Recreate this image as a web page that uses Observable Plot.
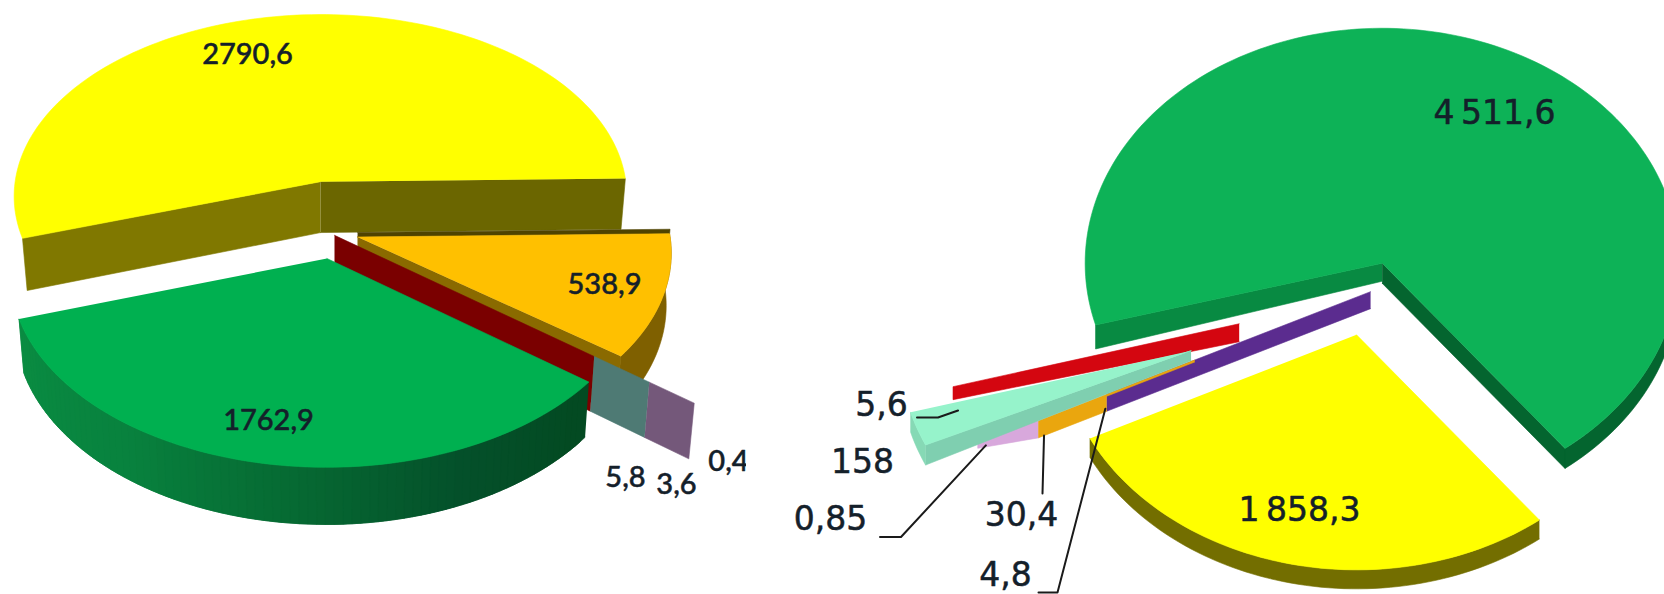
<!DOCTYPE html>
<html>
<head>
<meta charset="utf-8">
<script src="https://cdn.jsdelivr.net/npm/d3@7"></script>
<script src="https://cdn.jsdelivr.net/npm/@observablehq/plot@0.6"></script>
<style>
html,body{margin:0;padding:0;background:#fff;overflow:hidden}
svg{display:block}
</style>
</head>
<body>
<div id="chart"></div>
<script>
// ---- data (clockwise from each pie's starting angle)
const leftNames  = ["orange","darkred","mauve","teal","green","yellow"];
const leftValues = [538.9, 0.4, 3.6, 5.8, 1762.9, 2790.6];
const leftLabels = ["538,9","0,4","3,6","5,8","1762,9","2790,6"];

const rightNames  = ["yellow","purple","amber","pink","aqua","red","green"];
const rightValues = [1858.3, 4.8, 30.4, 0.85, 158, 5.6, 4511.6];
const rightLabels = ["1\u2009858,3","4,8","30,4","0,85","158","5,6","4\u2009511,6"];

// ---- 3D view of each pie
const leftView  = {cx:334, cy:232, R:312, Q:188, p:0.00042, shrink:0.015/52, start:-1};
const rightView = {cx:1366, cy:300, R:297, Q:235, p:0, shrink:0, start:52};

const rad = d => d*Math.PI/180;
function layout(values, start){
  const total = d3.sum(values); let a = start;
  return values.map(v => { const a0=a; a += v/total*360; return {a0, a1:a, mid:(a0+a)/2}; });
}
function projector(view){
  return (a, r, e=0, ea=0, d=0) => {
    const X = view.R*(r*Math.cos(rad(a)) + e*Math.cos(rad(ea)));
    const G = view.Q*(r*Math.sin(rad(a)) + e*Math.sin(rad(ea)));
    const w = 1/(1 - view.p*G);
    return [view.cx + X*w*(1 - view.shrink*d), view.cy + (G + d)*w];
  };
}
const leftP = projector(leftView), rightP = projector(rightView);
const L = Object.fromEntries(layout(leftValues,leftView.start).map((s,i)=>[leftNames[i],s]));
const Rr = Object.fromEntries(layout(rightValues,rightView.start).map((s,i)=>[rightNames[i],s]));

// ---- shape builders
const rows = []; let uid = 0;
function poly(fill, pts){ const id = uid++; pts.forEach(p => rows.push({id, fill, x:p[0], y:p[1]})); }
const arcAngles = (a0,a1,step=1.5) => { const n=Math.max(1,Math.ceil(Math.abs(a1-a0)/step)); return d3.range(n+1).map(i=>a0+(a1-a0)*i/n); };
function topFace(P,s,e,ea,fill,r=1){ poly(fill,[P(0,0,e,ea), ...arcAngles(s.a0,s.a1).map(a=>P(a,r,e,ea))]); }
function face(P,a,e,ea,d,fill,r0=0,r1=1,a2=a,d0=d,d1=d){
  poly(fill,[P(a,r0,e,ea),P(a2,r1,e,ea),P(a2,r1,e,ea,d1),P(a,r0,e,ea,d0)]);
}
function outerSide(P,a0,a1,e,ea,d,color,r=1){
  const as = arcAngles(a0,a1,1.5);
  if (typeof color !== "function") {
    poly(color,[...as.map(a=>P(a,r,e,ea)), ...as.slice().reverse().map(a=>P(a,r,e,ea,d))]);
    return;
  }
  // Each strip overlaps the next, so the shading has no seams.
  for(let i=as.length-2;i>=0;i--){
    const b = as[Math.min(i+2,as.length-1)];
    const sub=[as[i],as[i+1],b];
    poly(color((as[i]+as[i+1])/2),[...sub.map(a=>P(a,r,e,ea)), ...sub.slice().reverse().map(a=>P(a,r,e,ea,d))]);
  }
}

// ---- left pie
{
  const P=leftP, d=52;
  const y=L.yellow, o=L.orange, g=L.green;
  const ey=.28, eo=.0775, eg=.139;
  face(P,y.a0,ey,y.mid,d,"#807800");
  face(P,y.a1,ey,y.mid,d,"#6b6600");
  topFace(P,y,ey,y.mid,"#ffff00");
  outerSide(P,o.a0,o.a1,eo,o.mid,d,"#7f6000");
  face(P,o.a1,eo,o.mid,d,"#8a6a00");
  face(P,o.a0,eo,o.mid,-4.5,"#4f4300");
  topFace(P,o,eo,o.mid,"#ffc000");
  const ab=g.a0, e0=.015;
  face(P,ab,e0,90,d,"#7a0000",0,1);
  face(P,ab,e0,90,d,"#4e7a74",1,1.2);
  face(P,ab,e0,90,d,"#74587a",1.2,1.36);
  const gc=d3.scaleLinear().domain([40,65,92,125,160]).range(["#034a22","#04502a","#066832","#08823e","#0a8c42"]);
  outerSide(P,g.a0,g.a1,eg,g.mid,d,gc);
  topFace(P,g,eg,g.mid,"#00b050");
}
// ---- right pie
{
  const P=rightP;
  const g=Rr.green,y=Rr.yellow,aq=Rr.aqua,re=Rr.red,pu=Rr.purple,pk=Rr.pink;
  const eG=.167,eY=.15,eA=.628;
  face(P,g.a0,eG,g.mid,20,"#088a42",0,1,g.a0,18,24);
  face(P,g.a1,eG,g.mid,20,"#04652f");
  outerSide(P,360,g.a1,eG,g.mid,20,"#04652f");
  topFace(P,g,eG,g.mid,"#0db257");
  outerSide(P,y.a0,y.a1,eY,y.mid,19,"#736e00");
  topFace(P,y,eY,y.mid,"#ffff00");
  face(P,re.a0,.44,167,15,"#d40610",0,1,re.a0,18,13);
  const ea=-70, e1=.04;
  face(P,pu.a0,e1,ea,17,"#5b2c8f",0,.99);
  face(P,pu.a0,e1,ea,17,"#eaa60e",.99,1.247);
  face(P,pu.a0,e1,ea,17,"#d8a8dc",1.247,1.45,pk.a1);
  face(P,pu.a0,e1,ea,2,"#eaa60e",.66,.99);
  face(P,aq.a0,eA,aq.mid,20,"#7fcfb0",0,.98,aq.a0,10,20);
  outerSide(P,aq.a0,aq.a1,eA,aq.mid,20,"#86d9b5",.98);
  topFace(P,aq,eA,aq.mid,"#96f3cb",.98);
}

// ---- label placement, as offsets from each pie's centre
const leftLabelPos  = {"2790,6":[-87,-178],"538,9":[270,52],"1762,9":[-66,188],"5,8":[291,245],"3,6":[342,252],"0,4":[394,229]};
const rightLabelPos = {"4\u2009511,6":[128,-187],"1\u2009858,3":[-67,210],"5,6":[-485,105],"158":[-504,162],"0,85":[-536,219],"30,4":[-345,215],"4,8":[-361,275]};
const labelRows = [
  ...leftLabels.map(t=>({t, side:"left", x:leftView.cx+leftLabelPos[t][0], y:leftView.cy+leftLabelPos[t][1]})),
  ...rightLabels.map(t=>({t, side:"right", x:rightView.cx+rightLabelPos[t][0], y:rightView.cy+rightLabelPos[t][1]}))
];
const labelAt = t => labelRows.find(r=>r.t===t);

// ---- leader lines: label offsets, ending on the slice they name
const leaders = [];
function leader(t, offs, end){
  const l=labelAt(t);
  [...offs.map(o=>[l.x+o[0],l.y+o[1]]), end].forEach(p=>leaders.push({t,x:p[0],y:p[1]}));
}
leader("5,6",[[35.5,12],[56.5,12]],rightP(162,.825,.628,Rr.aqua.mid));
leader("0,85",[[49.5,17.5],[70.5,17.5]],rightP(Rr.pink.a1,1.42,.04,-70,17));
leader("30,4",[[21,-22]],rightP(Rr.purple.a0,1.225,.04,-70,17));
leader("4,8",[[33,17],[52,17]],rightP(Rr.purple.a0,.995,.04,-70,14));

const clipBox=[{x1:746,x2:775,y1:440,y2:485}];
const ink="#14202a";

const chart = Plot.plot({
  width:1664, height:594, margin:0,
  style:{background:"#fff"},
  x:{domain:[0,1664],range:[0,1664],axis:null},
  y:{domain:[0,594],range:[0,594],axis:null},
  marks:[
    Plot.line(rows,{x:"x",y:"y",z:"id",fill:d=>d.fill,stroke:d=>d.fill,strokeWidth:.6}),
    Plot.line(leaders,{x:"x",y:"y",z:"t",stroke:"#1a1a1a",strokeWidth:2}),
    Plot.text(labelRows.filter(d=>d.side==="left"),{x:"x",y:"y",text:"t",fontFamily:"Lato",fontSize:29,fontWeight:500,fill:ink,stroke:ink,strokeWidth:.5,textAnchor:"middle",lineAnchor:"middle"}),
    Plot.rect(clipBox,{x1:"x1",x2:"x2",y1:"y1",y2:"y2",fill:"#fff"}),
    Plot.text(labelRows.filter(d=>d.side==="right"),{x:"x",y:"y",text:"t",fontFamily:"DejaVu Sans",fontSize:33,fill:ink,stroke:ink,strokeWidth:.5,textAnchor:"middle",lineAnchor:"middle"})
  ]
});
document.getElementById("chart").appendChild(chart);
</script>
</body>
</html>
